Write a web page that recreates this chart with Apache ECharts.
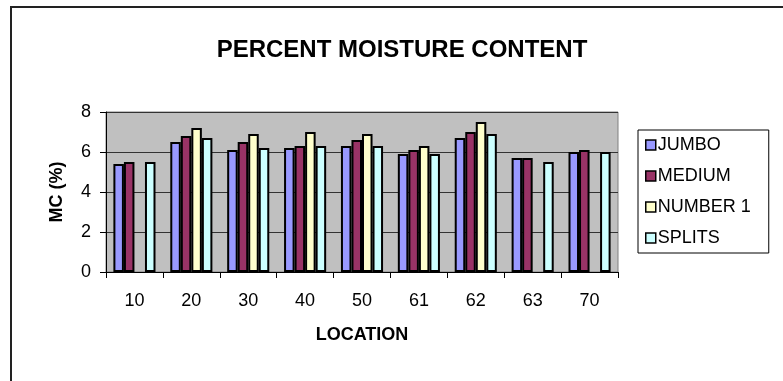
<!DOCTYPE html>
<html>
<head>
<meta charset="utf-8">
<script src="https://cdn.jsdelivr.net/npm/echarts@6/dist/echarts.min.js"></script>
<style>
html,body{margin:0;padding:0;background:#fff;}
#chart{width:783px;height:381px;}
</style>
</head>
<body>
<div id="chart"></div>
<script>
const titleText = 'PERCENT MOISTURE CONTENT';
const locations = ['10', '20', '30', '40', '50', '61', '62', '63', '70'];
const seriesNames = ['JUMBO', 'MEDIUM', 'NUMBER 1', 'SPLITS'];
const jumbo   = [5.4, 6.5, 6.1, 6.2, 6.3, 5.9, 6.7, 5.7, 6.0];
const medium  = [5.5, 6.8, 6.5, 6.3, 6.6, 6.1, 7.0, 5.7, 6.1];
const number1 = [null, 7.2, 6.9, 7.0, 6.9, 6.3, 7.5, null, null];
const splits  = [5.5, 6.7, 6.2, 6.3, 6.3, 5.9, 6.9, 5.5, 6.0];
const colors = ['#9999FF', '#993366', '#FFFFCC', '#CCFFFF'];

const FONT = '"Liberation Sans", Arial, sans-serif';
const values = [jumbo, medium, number1, splits];

const chart = echarts.init(document.getElementById('chart'), null, {renderer: 'canvas'});
chart.setOption({
  animation: false,
  backgroundColor: '#ffffff',
  color: colors,
  textStyle: {fontFamily: FONT, color: '#000'},
  graphic: [{
    type: 'rect', z: -10, silent: true,
    shape: {x: 11, y: 7, width: 800, height: 400},
    style: {fill: 'none', stroke: '#222', lineWidth: 2}
  }],
  title: {
    text: titleText,
    left: 397, top: 33, textAlign: 'center',
    textStyle: {fontFamily: FONT, fontSize: 24, fontWeight: 'bold', color: '#000'}
  },
  legend: {
    orient: 'vertical',
    left: 638, top: 130,
    padding: [6, 18, 6, 7],
    itemGap: 13,
    itemWidth: 10, itemHeight: 10,
    icon: 'rect',
    borderColor: '#000', borderWidth: 1,
    backgroundColor: '#fff',
    itemStyle: {borderColor: '#000', borderWidth: 1.5},
    textStyle: {fontFamily: FONT, fontSize: 18, color: '#000', padding: [0, 0, 0, -3]},
    data: seriesNames
  },
  grid: {
    left: 106, right: 165, top: 112, bottom: 109,
    show: true, backgroundColor: '#C0C0C0', borderColor: '#808080', borderWidth: 1
  },
  xAxis: {
    type: 'category',
    data: locations,
    name: 'LOCATION',
    nameLocation: 'middle',
    nameGap: 54,
    nameTextStyle: {fontFamily: FONT, fontSize: 18, fontWeight: 'bold', color: '#000'},
    axisLine: {show: true, lineStyle: {color: '#000', width: 1}},
    axisTick: {show: true, length: 6, lineStyle: {color: '#000'}},
    axisLabel: {fontFamily: FONT, fontSize: 18, color: '#000', margin: 20},
    splitLine: {show: false}
  },
  yAxis: {
    type: 'value',
    min: 0, max: 8, interval: 2,
    name: 'MC (%)',
    nameLocation: 'middle',
    nameGap: 40,
    nameRotate: 90,
    nameTextStyle: {fontFamily: FONT, fontSize: 18, fontWeight: 'bold', color: '#000'},
    axisLine: {show: true, lineStyle: {color: '#000', width: 1}},
    axisTick: {show: true, length: 6, lineStyle: {color: '#000'}},
    axisLabel: {fontFamily: FONT, fontSize: 18, color: '#000', margin: 15},
    splitLine: {show: true, lineStyle: {color: '#333', width: 1}}
  },
  series: seriesNames.map((name, i) => ({
    name: name,
    type: 'bar',
    data: values[i],
    barGap: '0%',
    barCategoryGap: '26%',
    itemStyle: {color: colors[i], borderColor: '#000', borderWidth: 2}
  }))
});
</script>
</body>
</html>
